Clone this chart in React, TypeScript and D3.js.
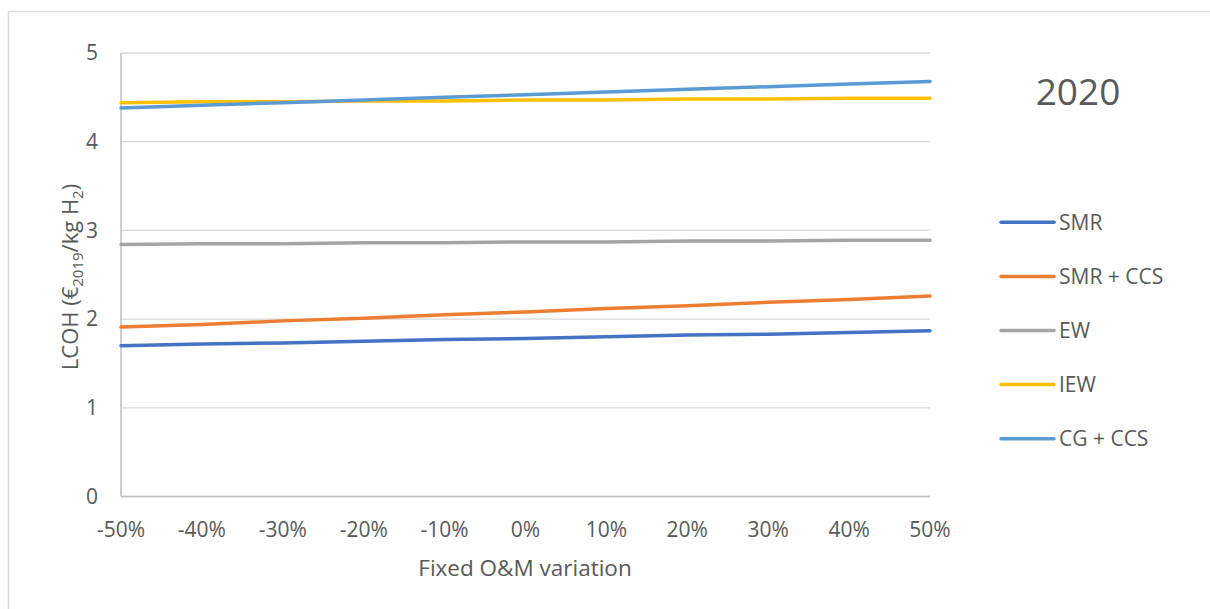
import React from "react";
import * as d3 from "d3";

// Fixed O&M variation categories
const categories = ["-50%", "-40%", "-30%", "-20%", "-10%", "0%", "10%", "20%", "30%", "40%", "50%"];

// LCOH values (€2019/kg H2) per technology
const smr = [1.70, 1.72, 1.73, 1.75, 1.77, 1.78, 1.80, 1.82, 1.83, 1.85, 1.87];
const smrCcs = [1.91, 1.94, 1.98, 2.01, 2.05, 2.08, 2.12, 2.15, 2.19, 2.22, 2.26];
const ew = [2.84, 2.85, 2.85, 2.86, 2.86, 2.87, 2.87, 2.88, 2.88, 2.89, 2.89];
const iew = [4.44, 4.45, 4.45, 4.46, 4.46, 4.47, 4.47, 4.48, 4.48, 4.49, 4.49];
const cgCcs = [4.38, 4.41, 4.44, 4.47, 4.50, 4.53, 4.56, 4.59, 4.62, 4.65, 4.68];

const seriesNames = ["SMR", "SMR + CCS", "EW", "IEW", "CG + CCS"];
const seriesColors = ["#4472C4", "#ED7D31", "#A5A5A5", "#FFC000", "#5B9BD5"];
const seriesValues = [smr, smrCcs, ew, iew, cgCcs];

const yTicks = [0, 1, 2, 3, 4, 5];

const FONT = "'Open Sans', 'Liberation Sans', sans-serif";
const TEXT = "#595959";

export default function App() {
  const W = 1210;
  const H = 609;
  const left = 121;
  const right = 930;
  const top = 53;
  const bottom = 496.5;

  const x = d3.scalePoint<string>().domain(categories).range([left, right]);
  const y = d3.scaleLinear().domain([0, 5]).range([bottom, top]);

  const line = d3
    .line<number>()
    .x((_, i) => x(categories[i]) as number)
    .y((v) => y(v));

  const legendX0 = 1001;
  const legendX1 = 1054;
  const legendY0 = 222.3;
  const legendStep = 54.1;

  return (
    <svg
      width={W}
      height={H}
      style={{ position: "absolute", left: 0, top: 0, background: "#fff" }}
      fontFamily={FONT}
    >
      <rect x={8.5} y={11.5} width={W} height={H} fill="#fff" stroke="#d9d9d9" strokeWidth={1.5} />

      {/* gridlines */}
      {yTicks.map((t) => (
        <line key={t} x1={left} x2={right} y1={y(t)} y2={y(t)} stroke="#d9d9d9" strokeWidth={1.3} />
      ))}

      {/* axes */}
      <line x1={left} x2={left} y1={top} y2={bottom} stroke="#bfbfbf" strokeWidth={1.5} />
      <line x1={left} x2={right} y1={bottom} y2={bottom} stroke="#bfbfbf" strokeWidth={1.5} />

      {/* y tick labels */}
      {yTicks.map((t) => (
        <text key={t} x={98} y={y(t)} dy="0.35em" textAnchor="end" fontSize={21} fill={TEXT}>
          {t}
        </text>
      ))}

      {/* x tick labels */}
      {categories.map((c) => (
        <text key={c} x={x(c)} y={537} textAnchor="middle" fontSize={21} fill={TEXT}>
          {c}
        </text>
      ))}

      {/* axis titles */}
      <text x={525} y={576} textAnchor="middle" fontSize={22.5} fill={TEXT}>
        Fixed O&amp;M variation
      </text>
      <text
        transform={`translate(78, 277) rotate(-90)`}
        textAnchor="middle"
        fontSize={22}
        fill={TEXT}
      >
        LCOH (€
        <tspan fontSize={15} dy={5}>2019</tspan>
        <tspan dy={-5}>/kg H</tspan>
        <tspan fontSize={15} dy={5}>2</tspan>
        <tspan dy={-5}>)</tspan>
      </text>

      {/* series */}
      {seriesValues.map((vals, i) => (
        <path
          key={seriesNames[i]}
          d={line(vals) ?? ""}
          fill="none"
          stroke={seriesColors[i]}
          strokeWidth={3.5}
          strokeLinecap="round"
        />
      ))}

      {/* title */}
      <text x={1078} y={105} textAnchor="middle" fontSize={37} fill={TEXT}>
        2020
      </text>

      {/* legend */}
      {seriesNames.map((name, i) => {
        const ly = legendY0 + i * legendStep;
        return (
          <g key={name}>
            <line
              x1={legendX0}
              x2={legendX1}
              y1={ly}
              y2={ly}
              stroke={seriesColors[i]}
              strokeWidth={3.5}
              strokeLinecap="round"
            />
            <text x={1059} y={ly} dy="0.35em" fontSize={21} fill={TEXT}>
              {name}
            </text>
          </g>
        );
      })}
    </svg>
  );
}
